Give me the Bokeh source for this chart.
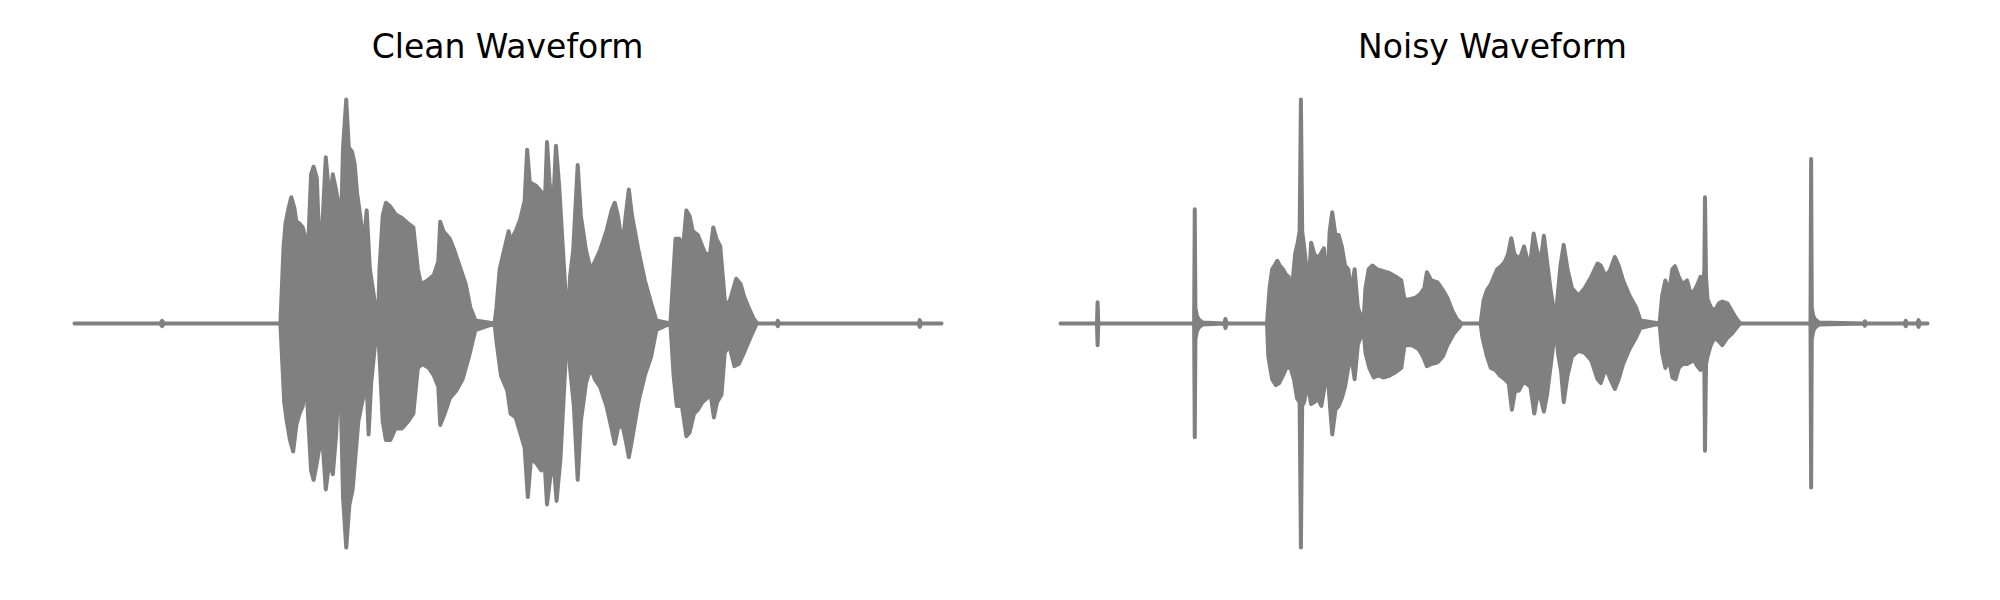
from bokeh.plotting import figure
from bokeh.layouts import row
from bokeh.models import Range1d
from bokeh.embed import file_html
from bokeh.resources import INLINE

# ---------------- data (time in s, amplitude normalised to each clip's peak) ----------------
clean_top_t = [0.0, 0.335, 0.3425, 0.35, 0.805, 0.8175, 0.825, 0.835, 0.8475, 0.86,
               0.8675, 0.88, 0.8925, 0.9, 0.91, 0.925, 0.935, 0.9475, 0.96, 0.9725,
               0.9825, 0.9925, 1.0025, 1.01, 1.0225, 1.03, 1.0375, 1.05, 1.0625, 1.0725,
               1.085, 1.095, 1.105, 1.1175, 1.13, 1.1425, 1.155, 1.175, 1.1875, 1.1925,
               1.205, 1.2175, 1.235, 1.255, 1.28, 1.305, 1.325, 1.3425, 1.355, 1.38,
               1.405, 1.4225, 1.43, 1.4425, 1.4675, 1.485, 1.505, 1.53, 1.5475, 1.5675,
               1.6425, 1.65, 1.6625, 1.68, 1.6975, 1.705, 1.725, 1.7425, 1.76, 1.77,
               1.78, 1.79, 1.805, 1.8175, 1.83, 1.8375, 1.8475, 1.8575, 1.87, 1.8825,
               1.895, 1.91, 1.9225, 1.93, 1.9375, 1.95, 1.9675, 1.98, 2.0, 2.0175,
               2.035, 2.055, 2.08, 2.1, 2.1125, 2.125, 2.1425, 2.155, 2.1675, 2.18,
               2.205, 2.23, 2.255, 2.275, 2.33, 2.3375, 2.35, 2.365, 2.38, 2.3925,
               2.405, 2.4175, 2.4375, 2.455, 2.4675, 2.485, 2.4975, 2.51, 2.525, 2.5425,
               2.555, 2.5725, 2.5875, 2.605, 2.6175, 2.635, 2.655, 2.67, 2.745, 2.75,
               2.755, 3.3, 3.305, 3.31, 3.39]
clean_top = [0, 0, 0.012, 0, 0, 0.344, 0.446, 0.505, 0.564, 0.514,
             0.454, 0.446, 0.429, 0.395, 0.242, 0.666, 0.700, 0.649, 0.259, 0.514,
             0.742, 0.615, 0.581, 0.666, 0.598, 0.547, 0.242, 0.785, 1.0, 0.785,
             0.768, 0.717, 0.581, 0.480, 0.344, 0.505, 0.242, 0.090, 0.022, 0.242,
             0.480, 0.539, 0.522, 0.488, 0.471, 0.446, 0.429, 0.242, 0.175, 0.192,
             0.217, 0.276, 0.454, 0.412, 0.378, 0.327, 0.259, 0.175, 0.073, 0.014,
             0, 0.073, 0.242, 0.327, 0.412, 0.369, 0.412, 0.463, 0.547, 0.776,
             0.632, 0.624, 0.615, 0.598, 0.581, 0.480, 0.810, 0.632, 0.480, 0.793,
             0.615, 0.327, 0.090, 0, 0.208, 0.327, 0.708, 0.480, 0.327, 0.242,
             0.276, 0.327, 0.412, 0.505, 0.539, 0.480, 0.344, 0.480, 0.598, 0.480,
             0.327, 0.192, 0.090, 0.014, 0, 0.141, 0.378, 0.378, 0.344, 0.505,
             0.480, 0.412, 0.395, 0.344, 0.310, 0.310, 0.429, 0.378, 0.344, 0.107,
             0.073, 0.141, 0.2, 0.175, 0.124, 0.073, 0.022, 0, 0, 0.012,
             0, 0, 0.015, 0, 0]
clean_bot_t = [0.0, 0.335, 0.3425, 0.35, 0.805, 0.82, 0.83, 0.8425, 0.855, 0.8675,
               0.88, 0.8925, 0.905, 0.925, 0.935, 0.9475, 0.9625, 0.9725, 0.9825, 0.9975,
               1.01, 1.0225, 1.0375, 1.05, 1.0625, 1.075, 1.0875, 1.0975, 1.11, 1.125,
               1.1425, 1.15, 1.16, 1.175, 1.1875, 1.195, 1.205, 1.2175, 1.235, 1.255,
               1.28, 1.305, 1.325, 1.3425, 1.36, 1.385, 1.405, 1.4225, 1.43, 1.4475,
               1.4675, 1.4925, 1.5175, 1.5425, 1.5675, 1.6425, 1.65, 1.6675, 1.6925, 1.705,
               1.725, 1.7425, 1.76, 1.7725, 1.785, 1.805, 1.825, 1.8375, 1.8475, 1.86,
               1.8725, 1.885, 1.9, 1.9125, 1.925, 1.93, 1.9375, 1.9525, 1.9675, 1.98,
               2.0, 2.0175, 2.035, 2.055, 2.08, 2.1, 2.1125, 2.125, 2.1425, 2.155,
               2.1675, 2.18, 2.205, 2.23, 2.255, 2.275, 2.33, 2.3425, 2.355, 2.375,
               2.3925, 2.405, 2.4225, 2.4375, 2.455, 2.4725, 2.4875, 2.5, 2.5125, 2.53,
               2.5425, 2.56, 2.58, 2.5975, 2.6175, 2.6425, 2.6675, 2.745, 2.75, 2.755,
               3.3, 3.305, 3.31, 3.39]
clean_bot = [0, 0, -0.012, 0, 0, -0.351, -0.436, -0.520, -0.571, -0.453,
             -0.402, -0.368, -0.241, -0.656, -0.698, -0.622, -0.520, -0.571, -0.741, -0.605,
             -0.673, -0.503, -0.147, -0.775, -1.0, -0.808, -0.741, -0.605, -0.436, -0.351,
             -0.266, -0.495, -0.266, -0.097, -0.029, -0.198, -0.436, -0.520, -0.520, -0.469,
             -0.469, -0.436, -0.402, -0.198, -0.181, -0.198, -0.232, -0.283, -0.453, -0.402,
             -0.334, -0.300, -0.249, -0.147, -0.029, 0, -0.080, -0.232, -0.300, -0.402,
             -0.419, -0.486, -0.554, -0.775, -0.605, -0.622, -0.656, -0.605, -0.808, -0.690,
             -0.605, -0.792, -0.605, -0.334, -0.063, 0, -0.198, -0.368, -0.698, -0.436,
             -0.266, -0.198, -0.249, -0.283, -0.368, -0.469, -0.537, -0.469, -0.453, -0.520,
             -0.597, -0.520, -0.351, -0.232, -0.147, -0.029, 0, -0.232, -0.368, -0.368,
             -0.503, -0.486, -0.402, -0.385, -0.351, -0.334, -0.317, -0.419, -0.351, -0.317,
             -0.131, -0.097, -0.190, -0.181, -0.131, -0.063, 0, 0, -0.012, 0,
             0, -0.015, 0, 0]

noisy_top_t = [0.0, 0.1425, 0.145, 0.1475, 0.15, 0.5225, 0.525, 0.5275, 0.533, 0.54,
               0.555, 0.64, 0.645, 0.65, 0.8075, 0.8175, 0.8275, 0.8375, 0.8475, 0.8575,
               0.87, 0.8825, 0.8925, 0.9025, 0.9175, 0.9275, 0.935, 0.94, 0.945, 0.9525,
               0.9625, 0.9725, 0.98, 0.9925, 1.005, 1.0175, 1.03, 1.0425, 1.0525, 1.0625,
               1.075, 1.0875, 1.1, 1.1125, 1.125, 1.1375, 1.15, 1.1625, 1.1775, 1.185,
               1.1925, 1.205, 1.22, 1.2375, 1.2625, 1.2875, 1.3125, 1.3325, 1.345, 1.3625,
               1.3875, 1.4075, 1.4225, 1.4325, 1.45, 1.475, 1.495, 1.5125, 1.5325, 1.55,
               1.5675, 1.6425, 1.655, 1.6675, 1.6825, 1.695, 1.7075, 1.725, 1.7375, 1.75,
               1.7625, 1.775, 1.7875, 1.8, 1.8125, 1.8275, 1.8375, 1.85, 1.8625, 1.8775,
               1.89, 1.9025, 1.9175, 1.9275, 1.9375, 1.9425, 1.955, 1.9675, 1.9825, 2.0,
               2.025, 2.05, 2.075, 2.1, 2.1125, 2.1325, 2.15, 2.1675, 2.1825, 2.2,
               2.225, 2.25, 2.2675, 2.3425, 2.3525, 2.365, 2.38, 2.3925, 2.4025, 2.4175,
               2.4325, 2.45, 2.4625, 2.475, 2.4875, 2.5025, 2.5125, 2.5175, 2.52, 2.524,
               2.53, 2.5425, 2.5575, 2.575, 2.5875, 2.6075, 2.625, 2.6425, 2.6575, 2.9325,
               2.935, 2.9375, 2.943, 2.95, 2.965, 3.14, 3.145, 3.15, 3.3, 3.305,
               3.31, 3.35, 3.355, 3.36, 3.39]
noisy_top = [0, 0, 0.095, 0.01, 0, 0, 0.51, 0.07, 0.035, 0.018,
             0.005, 0, 0.02, 0, 0, 0.158, 0.242, 0.259, 0.280, 0.259,
             0.242, 0.217, 0.208, 0.124, 0.310, 0.361, 0.412, 1.0, 0.412, 0.344,
             0.242, 0.208, 0.361, 0.310, 0.293, 0.310, 0.336, 0.141, 0.412, 0.497,
             0.395, 0.395, 0.344, 0.259, 0.242, 0.141, 0.242, 0.073, 0.022, 0.014,
             0.158, 0.242, 0.259, 0.242, 0.234, 0.225, 0.208, 0.192, 0.107, 0.107,
             0.115, 0.132, 0.158, 0.229, 0.192, 0.183, 0.149, 0.115, 0.056, 0.019,
             0, 0, 0.107, 0.149, 0.175, 0.208, 0.242, 0.259, 0.276, 0.310,
             0.381, 0.310, 0.293, 0.302, 0.344, 0.276, 0.276, 0.402, 0.327, 0.276,
             0.392, 0.276, 0.141, 0.073, 0, 0.107, 0.259, 0.351, 0.242, 0.158,
             0.124, 0.158, 0.208, 0.268, 0.259, 0.208, 0.242, 0.297, 0.259, 0.192,
             0.124, 0.073, 0.014, 0, 0.124, 0.192, 0.141, 0.242, 0.256, 0.208,
             0.175, 0.192, 0.141, 0.141, 0.166, 0.208, 0.141, 0.242, 0.564, 0.208,
             0.107, 0.073, 0.056, 0.090, 0.098, 0.090, 0.056, 0.022, 0, 0,
             0.734, 0.07, 0.035, 0.018, 0.005, 0, 0.01, 0, 0, 0.012,
             0, 0, 0.015, 0, 0]
noisy_bot_t = [0.0, 0.1425, 0.145, 0.1475, 0.15, 0.5225, 0.525, 0.5275, 0.533, 0.54,
               0.555, 0.64, 0.645, 0.65, 0.8075, 0.8125, 0.8275, 0.8425, 0.855, 0.87,
               0.8825, 0.9, 0.9125, 0.925, 0.935, 0.94, 0.945, 0.9525, 0.965, 0.98,
               0.9925, 1.005, 1.02, 1.0325, 1.045, 1.055, 1.0625, 1.075, 1.0875, 1.1,
               1.1125, 1.125, 1.1375, 1.15, 1.1625, 1.1775, 1.185, 1.1925, 1.2075, 1.225,
               1.2425, 1.2625, 1.2875, 1.3125, 1.3325, 1.345, 1.375, 1.4, 1.4175, 1.4325,
               1.45, 1.475, 1.495, 1.5125, 1.5375, 1.5625, 1.5675, 1.6425, 1.65, 1.6675,
               1.6825, 1.7, 1.7175, 1.7375, 1.7525, 1.765, 1.7775, 1.7925, 1.8075, 1.82,
               1.8375, 1.8525, 1.8625, 1.8775, 1.89, 1.9025, 1.9175, 1.9325, 1.9375, 1.945,
               1.9575, 1.9675, 1.9825, 2.0, 2.025, 2.05, 2.075, 2.1, 2.1125, 2.1325,
               2.15, 2.1675, 2.1825, 2.2, 2.225, 2.25, 2.2675, 2.3425, 2.3525, 2.365,
               2.38, 2.3925, 2.405, 2.4175, 2.4325, 2.45, 2.4625, 2.4775, 2.49, 2.5025,
               2.5125, 2.5175, 2.52, 2.524, 2.53, 2.5425, 2.5575, 2.575, 2.5875, 2.6075,
               2.625, 2.6425, 2.6575, 2.9325, 2.935, 2.9375, 2.943, 2.95, 2.965, 3.14,
               3.145, 3.15, 3.3, 3.305, 3.31, 3.35, 3.355, 3.36, 3.39]
noisy_bot = [0, 0, -0.097, -0.01, 0, 0, -0.508, -0.07, -0.035, -0.018,
             -0.005, 0, -0.02, 0, 0, -0.147, -0.249, -0.275, -0.266, -0.232,
             -0.198, -0.198, -0.249, -0.334, -0.351, -1.0, -0.368, -0.351, -0.266, -0.359,
             -0.351, -0.334, -0.368, -0.283, -0.232, -0.385, -0.495, -0.385, -0.368, -0.334,
             -0.283, -0.198, -0.147, -0.249, -0.097, -0.046, -0.029, -0.131, -0.198, -0.241,
             -0.232, -0.241, -0.232, -0.215, -0.198, -0.097, -0.097, -0.114, -0.147, -0.190,
             -0.181, -0.173, -0.147, -0.097, -0.046, -0.012, 0, 0, -0.063, -0.147,
             -0.198, -0.207, -0.232, -0.249, -0.266, -0.385, -0.300, -0.300, -0.266, -0.266,
             -0.283, -0.402, -0.334, -0.334, -0.393, -0.317, -0.181, -0.046, 0, -0.131,
             -0.215, -0.351, -0.232, -0.147, -0.122, -0.131, -0.164, -0.249, -0.266, -0.198,
             -0.249, -0.292, -0.249, -0.181, -0.114, -0.063, -0.020, 0, -0.131, -0.198,
             -0.164, -0.241, -0.249, -0.198, -0.181, -0.181, -0.173, -0.164, -0.190, -0.207,
             -0.164, -0.198, -0.568, -0.181, -0.147, -0.097, -0.063, -0.080, -0.097, -0.063,
             -0.046, -0.020, 0, 0, -0.732, -0.07, -0.035, -0.018, -0.005, 0,
             -0.01, 0, 0, -0.012, 0, 0, -0.015, 0, 0]

titles = ["Clean Waveform", "Noisy Waveform"]

# ---------------- layout / style ----------------
WAVE_COLOR = "#808080"
PX_PER_S = 255.75      # horizontal scale (px per second)
FIG_H = 592
TOP_BORDER = 70        # space for the title
BASE_FROM_TOP = 253    # zero line, px below the frame top
PX_PER_UNIT = 224.0    # vertical scale


def make_panel(title, top_t, top_a, bot_t, bot_a, width, t0_px, border_left, border_right):
    frame_w = width - border_left - border_right
    x0 = -t0_px / PX_PER_S
    x1 = x0 + frame_w / PX_PER_S
    frame_h = FIG_H - TOP_BORDER
    y1 = BASE_FROM_TOP / PX_PER_UNIT
    y0 = -(frame_h - BASE_FROM_TOP) / PX_PER_UNIT
    p = figure(width=width, height=FIG_H, title=title,
               x_range=Range1d(x0, x1), y_range=Range1d(y0, y1),
               toolbar_location=None, output_backend="svg",
               x_axis_location=None, y_axis_location=None,
               min_border_left=border_left, min_border_right=border_right,
               min_border_top=TOP_BORDER, min_border_bottom=0)
    p.grid.visible = False
    p.outline_line_color = None
    p.background_fill_color = "white"
    p.border_fill_color = "white"
    p.title.align = "center"
    p.title.text_font = "DejaVu Sans"
    p.title.text_font_size = "33px"
    p.title.text_font_style = "normal"
    p.title.text_color = "black"

    top = list(zip(top_t, top_a))
    bot = list(zip(bot_t, bot_a))[::-1]
    xs = [t for t, _ in top] + [t for t, _ in bot]
    ys = [a for _, a in top] + [a for _, a in bot]
    p.patch(xs, ys, fill_color=WAVE_COLOR, line_color=WAVE_COLOR,
            line_width=4, line_join="round")
    return p


p1 = make_panel(titles[0], clean_top_t, clean_top, clean_bot_t, clean_bot,
                width=1006, t0_px=66, border_left=8, border_right=0)
p2 = make_panel(titles[1], noisy_top_t, noisy_top, noisy_bot_t, noisy_bot,
                width=986, t0_px=54, border_left=0, border_right=14)

layout = row(p1, p2)
open("out.html", "w").write(file_html(layout, INLINE))
